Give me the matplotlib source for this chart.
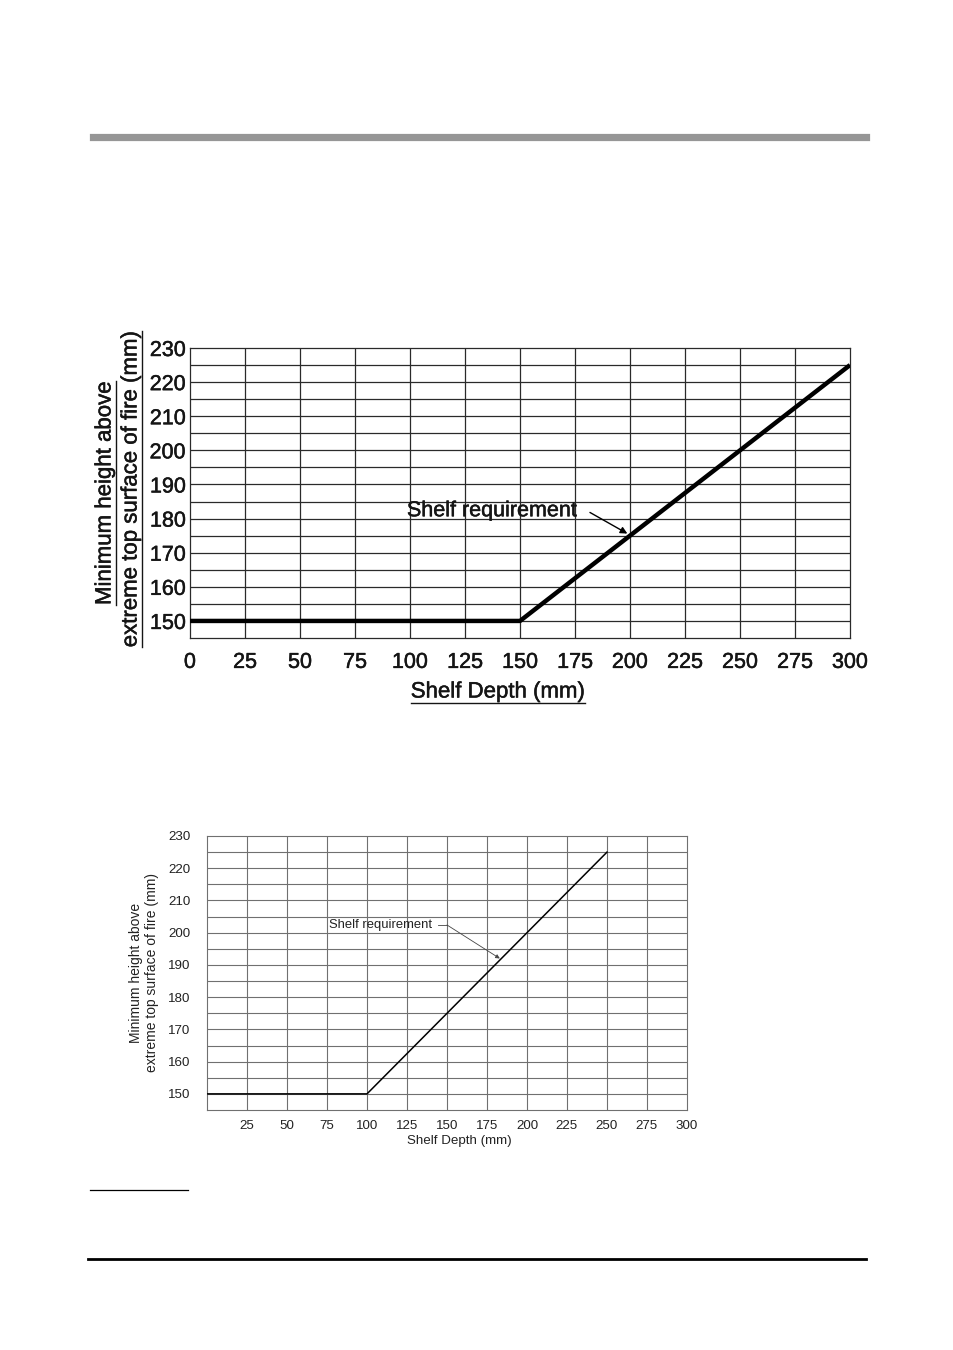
import matplotlib
matplotlib.use("Agg")
import matplotlib.pyplot as plt
import matplotlib.patheffects as pe
from matplotlib.lines import Line2D
import numpy as np

plt.rcParams['font.family'] = ['Liberation Sans', 'DejaVu Sans']

# old requirement (scanned chart) and new requirement
depth_old = [0, 150, 300]
height_old = [150, 150, 225]
depth_new = [0, 100, 250]
height_new = [150, 150, 225]

x_ticks = [0, 25, 50, 75, 100, 125, 150, 175, 200, 225, 250, 275, 300]
y_ticks = [150, 160, 170, 180, 190, 200, 210, 220, 230]
y_label_lines = ["Minimum height above", "extreme top surface of fire (mm)"]
x_label = "Shelf Depth (mm)"
note = "Shelf requirement"

W, H = 954, 1350
fig = plt.figure(figsize=(W / 100, H / 100), dpi=100)

# page furniture in pixel coordinates
page = fig.add_axes([0, 0, 1, 1])
page.set_xlim(0, W)
page.set_ylim(H, 0)
page.axis('off')
page.add_line(Line2D([93, 866], [136.5, 136.5], color='#969696', lw=5.2))
page.add_line(Line2D([90, 188], [1190, 1190], color='black', lw=0.9))
page.add_line(Line2D([88, 866], [1259, 1259], color='black', lw=2.0))


def px(x, y):
    return x / W, 1 - y / H


def setup(ax, grid_col, lw):
    ax.set_xlim(0, 300)
    ax.set_ylim(145, 230)
    ax.set_xticks(x_ticks)
    ax.set_yticks(y_ticks)
    for v in np.arange(25, 300, 25):
        ax.axvline(v, color=grid_col, lw=lw, zorder=1)
    for v in np.arange(150, 230, 5):
        ax.axhline(v, color=grid_col, lw=lw, zorder=1)
    for s in ax.spines.values():
        s.set_color(grid_col)
        s.set_linewidth(lw)
    ax.tick_params(which='both', length=0)


# ---- top: scanned old chart ----
dark = '#151515'
thick = [pe.withStroke(linewidth=0.35, foreground=dark)]
l, b = px(190, 638)
r, t = px(850, 348)
ax1 = fig.add_axes([l, b, r - l, t - b])
setup(ax1, '#2a2a2a', 0.9)
ax1.plot(depth_old, height_old, color='black', lw=3.2, solid_capstyle='butt', zorder=3)
ax1.set_xticklabels([str(v) for v in x_ticks], fontsize=15.5, color=dark)
ax1.set_yticklabels([str(v) for v in y_ticks], fontsize=15.5, color=dark)
for lab in ax1.get_xticklabels() + ax1.get_yticklabels():
    lab.set_path_effects(thick)
ax1.tick_params(axis='x', pad=10)
ax1.tick_params(axis='y', pad=3)
ax1.text(98.6, 182.3, note, fontsize=15.5, color=dark, va='center', ha='left', zorder=4,
         path_effects=thick)
ax1.annotate('', xy=(198.8, 175.6), xytext=(181.8, 181.8), zorder=4,
             arrowprops=dict(arrowstyle='-|>', color='black', lw=1.0,
                             shrinkA=0, shrinkB=0, mutation_scale=10))

t1 = fig.text(*px(105, 493), y_label_lines[0], rotation=90, ha='center', va='center',
              fontsize=16, color=dark, path_effects=thick)
t2 = fig.text(*px(131, 489), y_label_lines[1], rotation=90, ha='center', va='center',
              fontsize=16, color=dark, path_effects=thick)
t3 = fig.text(*px(498, 692), x_label, ha='center', va='center',
              fontsize=16, color=dark, path_effects=thick)

# ---- bottom: new chart ----
grey = '#222222'
l, b = px(207, 1110)
r, t = px(687, 836)
ax2 = fig.add_axes([l, b, r - l, t - b])
setup(ax2, '#707070', 0.8)
ax2.plot(depth_new, height_new, color='black', lw=1.1, zorder=3)
ax2.set_xticklabels([''] + [str(v) for v in x_ticks[1:]], fontsize=9.6, color=grey)
ax2.set_yticklabels([str(v) for v in y_ticks], fontsize=9.6, color=grey)
ax2.tick_params(axis='x', pad=7)
ax2.tick_params(axis='y', pad=12)
ax2.text(76.2, 202.4, note, fontsize=9.4, color=grey, va='center', ha='left', zorder=4)
ax2.plot([144.5, 150], [202.4, 202.4], color='#444444', lw=0.6, zorder=4)
ax2.annotate('', xy=(183, 192), xytext=(150, 202.4), zorder=4,
             arrowprops=dict(arrowstyle='-|>', color='#444444', lw=0.6,
                             shrinkA=0, shrinkB=0, mutation_scale=6))

fig.text(*px(136, 973), y_label_lines[0], rotation=90, ha='center', va='center',
         fontsize=10, color=grey)
fig.text(*px(152, 973), y_label_lines[1], rotation=90, ha='center', va='center',
         fontsize=10, color=grey)
fig.text(*px(459, 1141), x_label, ha='center', va='center', fontsize=9.6, color=grey)

# underline the scanned chart's axis titles
fig.canvas.draw()
rend = fig.canvas.get_renderer()
for tt in (t1, t2):
    bb = tt.get_window_extent(rend)
    xl = bb.x1 + 1
    page.add_line(Line2D([xl, xl], [H - bb.y0, H - bb.y1], color=dark, lw=1.0))
bb = t3.get_window_extent(rend)
page.add_line(Line2D([bb.x0, bb.x1], [H - bb.y0, H - bb.y0], color=dark, lw=1.0))

fig.savefig("out.png", dpi=100)
